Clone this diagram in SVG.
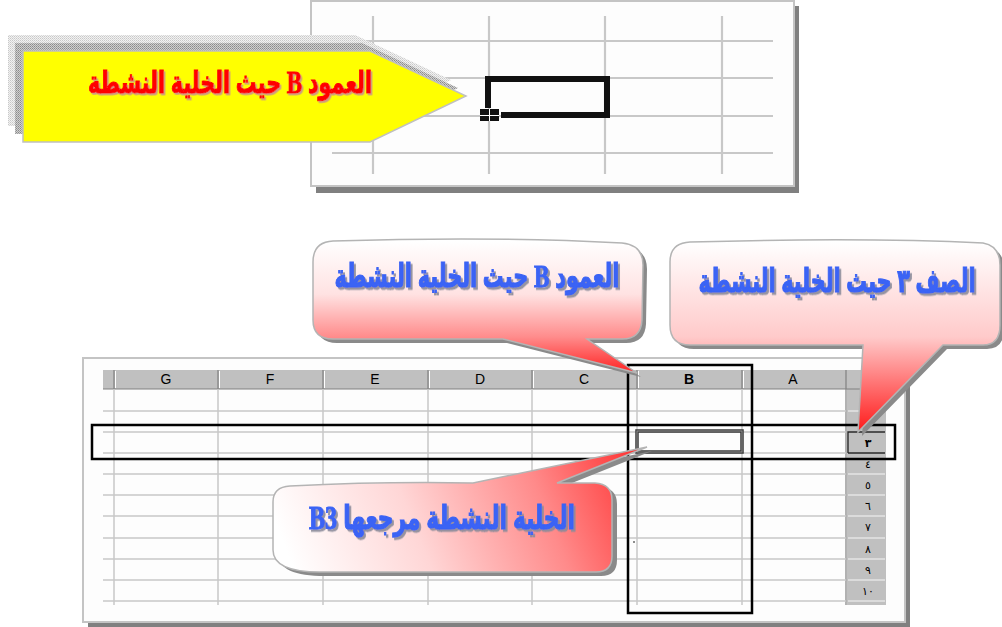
<svg xmlns="http://www.w3.org/2000/svg" width="1002" height="627" viewBox="0 0 1002 627">
<style>
.grid{stroke:#c8c8c8;stroke-width:1.5;fill:none}
.tgrid{stroke:#c8c8c8;stroke-width:2.2;fill:none}
.hdr{fill:#c0c0c0}
.hsep{stroke:#808080;stroke-width:1.2}
.hl{stroke:#ffffff;stroke-width:1}
.col{font-family:"Liberation Sans",Arial,sans-serif;font-size:14px;fill:#000;text-anchor:middle}
.row{font-family:"DejaVu Sans",sans-serif;font-size:11px;fill:#000;text-anchor:middle}
.box{fill:none;stroke:#000;stroke-width:2.5}
.ar{font-family:"Liberation Serif","DejaVu Sans Condensed","DejaVu Sans",serif;font-weight:bold;text-anchor:middle}
.blue{fill:#3a63f5;stroke:#3a63f5;stroke-width:0.9;filter:url(#ts)}
.red{fill:#ff0000;stroke:#ff0000;stroke-width:0.8;filter:url(#tsr)}
.cshadow{fill:#8a8a8a}
.cstroke{stroke:#b4b4b4;stroke-width:1.5}
</style>
<defs>
<filter id="ts" x="-10%" y="-30%" width="120%" height="160%"><feDropShadow dx="2" dy="2" stdDeviation="0.6" flood-color="#8a8a9a" flood-opacity="0.9"/></filter>
<filter id="tsr" x="-10%" y="-30%" width="120%" height="160%"><feDropShadow dx="1.5" dy="1.5" stdDeviation="0.5" flood-color="#c89090" flood-opacity="0.9"/></filter>
<pattern id="dl" width="2" height="2" patternUnits="userSpaceOnUse"><rect width="2" height="2" fill="#f2f2f2"/><rect width="1" height="1" fill="#c8c8c8"/><rect x="1" y="1" width="1" height="1" fill="#d8d8d8"/></pattern>
<pattern id="dd" width="2" height="2" patternUnits="userSpaceOnUse"><rect width="2" height="2" fill="#d0d0d0"/><rect width="1" height="1" fill="#8a8a8a"/><rect x="1" y="1" width="1" height="1" fill="#a0a0a0"/></pattern>
<linearGradient id="g1" gradientUnits="userSpaceOnUse" x1="0" y1="241" x2="0" y2="374"><stop offset="0" stop-color="#ffffff"/><stop offset="0.4" stop-color="#ffe2e2"/><stop offset="0.72" stop-color="#ff8c8c"/><stop offset="1" stop-color="#ff2020"/></linearGradient>
<linearGradient id="g2" gradientUnits="userSpaceOnUse" x1="0" y1="242" x2="0" y2="432"><stop offset="0" stop-color="#ffffff"/><stop offset="0.5" stop-color="#ffcaca"/><stop offset="1" stop-color="#ff1a1a"/></linearGradient>
<linearGradient id="g3" gradientUnits="userSpaceOnUse" x1="640" y1="450" x2="300" y2="585"><stop offset="0" stop-color="#ff3030"/><stop offset="0.3" stop-color="#ff8a8a"/><stop offset="0.65" stop-color="#ffd6d6"/><stop offset="1" stop-color="#ffffff"/></linearGradient>
</defs>

<rect width="1002" height="627" fill="#ffffff"/>

<!-- top spreadsheet fragment -->
<g id="top-panel">
<rect x="316" y="6" width="483" height="187" fill="#808080"/>
<rect x="311" y="1" width="483" height="185" fill="#fdfdfd" stroke="#c4c4c4" stroke-width="2"/>
<path class="tgrid" d="M373,16V174M489,16V174M605,16V174M722,16V174M333,41H773M333,78H773M333,116H773M332,153H773"/>
<path d="M488,108V79H607V115H501" fill="none" stroke="#111" stroke-width="6"/>
<rect x="480" y="109" width="19" height="12" fill="#111"/>
<path d="M489.5,109V121M480,115.5H499" stroke="#fff" stroke-width="1"/>
</g>

<!-- yellow arrow label -->
<g id="arrow-label">
<polygon points="8,35 355,35 451,80 355,126 8,126" fill="url(#dl)"/>
<polygon points="15,43 362,43 458,88 362,134 15,134" fill="url(#dd)"/>
<polygon points="23,51 370,51 466,96 370,142 23,142" fill="#ffff00" stroke="#c0c0c0" stroke-width="1.5"/>
<g transform="translate(230,93) scale(1,1.18)">
<text class="ar red" x="0" y="0" font-size="26" direction="rtl" textLength="284" lengthAdjust="spacingAndGlyphs">العمود B حيث الخلية النشطة</text>
</g>
</g>

<!-- bottom spreadsheet -->
<g id="sheet">
<rect x="88" y="363" width="822" height="264" fill="#808080"/>
<rect x="83" y="358" width="822" height="264" fill="#fdfdfd" stroke="#c4c4c4" stroke-width="2"/>
<rect class="hdr" x="103" y="370" width="783" height="19"/>
<rect class="hdr" x="847" y="389" width="39" height="216"/>
<path class="hsep" d="M114,370V389M218,370V389M323,370V389M428,370V389M532,370V389M637,370V389M742,370V389M846,370V605M103,389H886"/>
<path class="hl" d="M115.5,371V388M219.5,371V388M324.5,371V388M429.5,371V388M533.5,371V388M638.5,371V388M743.5,371V388"/>
<path class="grid" d="M114,389V605M218,389V605M323,389V605M428,389V605M532,389V605M637,389V605M742,389V605"/>
<path class="grid" d="M103,411H846M103,432H846M103,453H846M103,474H846M103,495H846M103,516H846M103,538H846M103,559H846M103,580H846M103,601H846"/>
<path d="M848,411H885M848,432H885M848,453H885M848,474H885M848,495H885M848,516H885M848,538H885M848,559H885M848,580H885M848,601H885" stroke="#e4e4e4" stroke-width="1.5"/>
<path d="M848,453V432H885M848,453H885" fill="none" stroke="#222" stroke-width="1.3"/>
<text class="col" x="166" y="384">G</text>
<text class="col" x="270" y="384">F</text>
<text class="col" x="375" y="384">E</text>
<text class="col" x="480" y="384">D</text>
<text class="col" x="584" y="384">C</text>
<text class="col" x="689" y="384" font-weight="bold">B</text>
<text class="col" x="793" y="384">A</text>
<text class="row" x="868" y="447" font-weight="bold">٣</text>
<text class="row" x="868" y="468">٤</text>
<text class="row" x="868" y="489">٥</text>
<text class="row" x="868" y="510">٦</text>
<text class="row" x="868" y="531">٧</text>
<text class="row" x="868" y="553">٨</text>
<text class="row" x="868" y="574">٩</text>
<text class="row" x="868" y="595">١٠</text>
<rect class="box" x="92" y="425" width="803" height="34"/>
<rect class="box" x="628" y="365" width="124" height="248"/>
<rect x="637" y="431" width="105" height="21" fill="none" stroke="#3a3a3a" stroke-width="3.5"/>
<rect x="637" y="431" width="105" height="21" fill="none" stroke="#909090" stroke-width="1"/>
<circle cx="634" cy="542" r="0.8" fill="#000"/>
</g>

<!-- callout: column B -->
<g id="callout-column">
<path class="cshadow" transform="translate(4,4)" d="M333,241C430,238 530,238 622,243Q643,245 643,265L642,320Q641,339 622,339L587,339L637,373L503,339L333,339Q313,339 313,320L313,262Q313,242 333,241Z"/>
<path class="cstroke" fill="url(#g1)" d="M333,241C430,238 530,238 622,243Q643,245 643,265L642,320Q641,339 622,339L587,339L637,373L503,339L333,339Q313,339 313,320L313,262Q313,242 333,241Z"/>
<g transform="translate(477,287) scale(1,1.2)">
<text class="ar blue" x="0" y="0" font-size="27" direction="rtl" textLength="285" lengthAdjust="spacingAndGlyphs">العمود B حيث الخلية النشطة</text>
</g>
</g>

<!-- callout: row 3 -->
<g id="callout-row">
<path class="cshadow" transform="translate(4,4)" d="M690,242C800,239 900,239 983,243Q1000,246 1000,265L1000,325Q1000,345 983,345L943,345L858,432L863,345L690,345Q670,345 670,325L670,262Q670,243 690,242Z"/>
<path class="cstroke" fill="url(#g2)" d="M690,242C800,239 900,239 983,243Q1000,246 1000,265L1000,325Q1000,345 983,345L943,345L858,432L863,345L690,345Q670,345 670,325L670,262Q670,243 690,242Z"/>
<g transform="translate(837,292) scale(1,1.2)">
<text class="ar blue" x="0" y="0" font-size="27" direction="rtl" textLength="277" lengthAdjust="spacingAndGlyphs">الصف ٣ حيث الخلية النشطة</text>
</g>
</g>

<!-- callout: active cell -->
<g id="callout-cell">
<path class="cshadow" transform="translate(5,4)" d="M290,486C350,483 420,482 473,483L647,447L557,483L595,483Q612,484 612,500L612,556Q612,572 596,572L320,572C290,572 273,565 273,550L273,502Q273,487 290,486Z"/>
<path class="cstroke" fill="url(#g3)" d="M290,486C350,483 420,482 473,483L647,447L557,483L595,483Q612,484 612,500L612,556Q612,572 596,572L320,572C290,572 273,565 273,550L273,502Q273,487 290,486Z"/>
<g transform="translate(442,529) scale(1,1.18)">
<text class="ar blue" x="0" y="0" font-size="28" direction="rtl" textLength="266" lengthAdjust="spacingAndGlyphs">الخلية النشطة مرجعها B3</text>
</g>
</g>
</svg>
